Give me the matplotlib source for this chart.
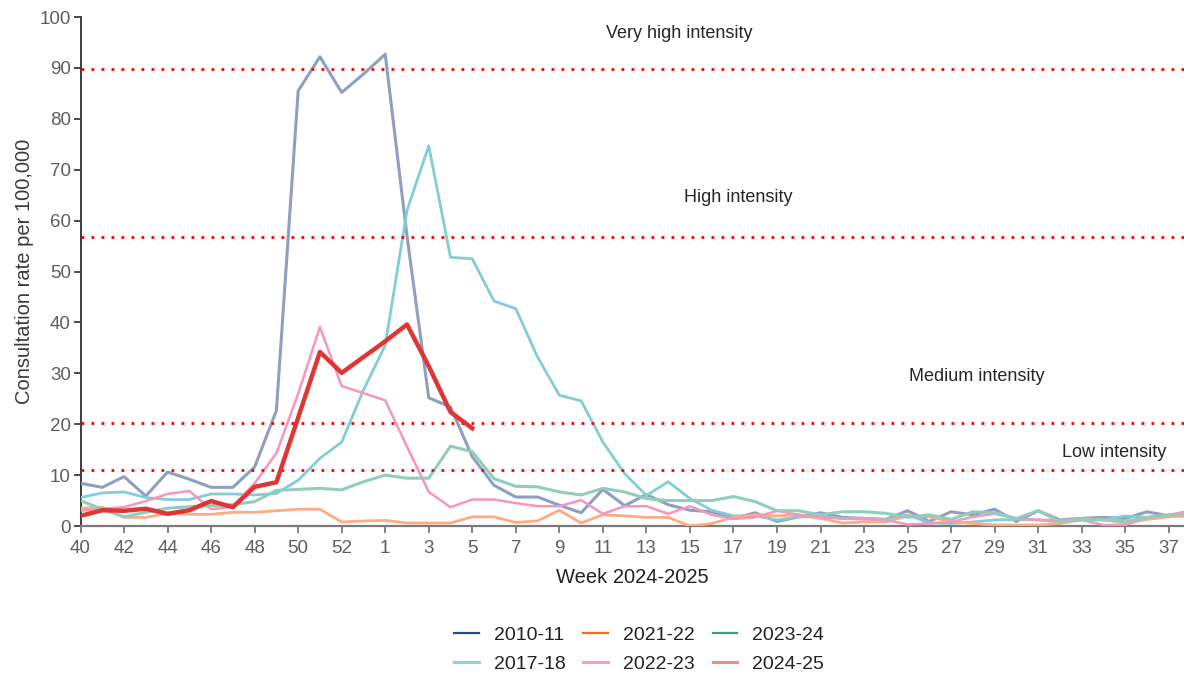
import matplotlib
matplotlib.use("Agg")
import matplotlib.pyplot as plt
from matplotlib.lines import Line2D

plt.rcParams['font.family'] = ['Liberation Sans', 'DejaVu Sans']

# ISO weeks of the season, week 40 through week 38 (season axis includes week 53)
weeks = list(range(40, 54)) + list(range(1, 39))

s2010_11 = [8.4, 7.6, 9.7, 5.9, 10.6, 9.2, 7.6, 7.6, 11.6, 22.7, 85.5, 92.2, 85.2,
            88.8, 92.7, 57.0, 25.2, 23.4, 13.6, 8.0, 5.7, 5.7, 4.1, 2.6, 7.2, 4.0,
            6.2, 4.2, 3.1, 2.8, 1.5, 2.6, 0.9, 1.8, 2.6, 1.7, 1.5, 1.3, 3.0, 0.9,
            2.8, 2.2, 3.3, 0.9, 3.0, 1.2, 1.5, 1.7, 1.5, 2.8, 2.0, 2.0]
s2017_18 = [5.6, 6.5, 6.7, 5.6, 5.2, 5.2, 6.3, 6.3, 6.1, 6.4, 9.0, 13.3, 16.5,
            26.7, 35.5, 62.0, 74.7, 52.8, 52.5, 44.2, 42.7, 33.2, 25.7, 24.6, 16.5,
            10.3, 6.0, 8.7, 5.4, 3.1, 2.0, 2.0, 1.2, 1.8, 1.8, 1.5, 1.5, 1.3, 2.2,
            0.6, 0.5, 0.8, 1.2, 1.3, 1.2, 0.8, 1.5, 1.2, 2.0, 1.7, 2.0, 2.0]
s2021_22 = [3.5, 3.7, 1.7, 1.7, 2.5, 2.3, 2.3, 2.7, 2.7, 3.0, 3.3, 3.3, 0.8,
            1.0, 1.1, 0.6, 0.6, 0.6, 1.8, 1.8, 0.7, 1.0, 3.1, 0.6, 2.2, 2.0,
            1.7, 1.7, 0.0, 0.5, 1.7, 2.2, 2.0, 2.2, 1.5, 0.6, 0.8, 0.8, 2.0, 1.8,
            0.9, 0.5, 0.2, 0.2, 0.2, 0.5, 1.2, 1.3, 0.5, 1.3, 1.8, 2.3]
s2022_23 = [3.0, 3.4, 3.7, 4.9, 6.3, 6.9, 3.3, 3.8, 8.4, 14.3, 26.0, 39.1, 27.5,
            26.1, 24.7, 15.6, 6.7, 3.7, 5.2, 5.2, 4.5, 3.9, 3.9, 5.1, 2.4, 3.9,
            3.9, 2.4, 3.9, 2.2, 1.4, 1.7, 3.0, 2.2, 1.7, 1.5, 1.3, 1.2, 0.3, 0.5,
            0.8, 1.8, 2.4, 1.5, 1.2, 1.2, 1.2, 0.2, 0.2, 1.7, 2.2, 3.0]
s2023_24 = [5.0, 3.3, 1.8, 2.7, 3.5, 3.8, 4.0, 4.2, 4.8, 7.0, 7.2, 7.4, 7.1,
            8.7, 10.0, 9.4, 9.4, 15.7, 14.6, 9.3, 7.8, 7.7, 6.7, 6.1, 7.4, 6.7,
            5.4, 5.0, 5.0, 5.0, 5.8, 4.8, 3.0, 3.0, 2.2, 2.8, 2.8, 2.5, 1.7, 2.2,
            1.3, 2.8, 2.6, 1.5, 3.0, 0.9, 1.2, 1.2, 0.9, 1.7, 2.2, 2.3]
# current season, reported up to week 5
s2024_25 = [2.0, 3.1, 3.0, 3.4, 2.4, 3.1, 4.9, 3.7, 7.7, 8.6, 21.3, 34.2, 30.1,
            33.2, 36.3, 39.6, 31.4, 22.4, 19.2]

# MEM intensity thresholds
thresholds = [11.1, 20.2, 56.7, 89.8]
threshold_labels = ['Low intensity', 'Medium intensity', 'High intensity', 'Very high intensity']
label_pos = [(47.5, 14.4), (41.2, 29.4), (30.2, 64.5), (27.5, 96.7)]


def plot_all():
    fig = plt.figure(figsize=(11.84, 6.75), dpi=100)
    ax = fig.add_axes([0.068, 0.2207, 0.932, 0.754])

    x_all = list(range(len(weeks)))

    past = [
        ('2010-11', s2010_11, '#8e9fc0', 2.2),
        ('2017-18', s2017_18, '#82cdd6', 2.0),
        ('2021-22', s2021_22, '#ffab82', 2.0),
        ('2022-23', s2022_23, '#f596bd', 1.8),
        ('2023-24', s2023_24, '#90cdbd', 2.2),
    ]
    for name, vals, col, lw in past:
        ax.plot(x_all, vals, color=col, linewidth=lw, zorder=3)

    ax.plot(x_all[:len(s2024_25)], s2024_25, color='#e03535', linewidth=3.2, zorder=5)

    for lvl in thresholds:
        ax.axhline(lvl, color='#ff0000', linestyle=(0, (1, 2.6)), linewidth=2.0, zorder=4)
    for txt, (px, py) in zip(threshold_labels, label_pos):
        ax.text(px, py, txt, ha='center', va='center', fontsize=13, color='#262626')

    ax.set_xlim(0, 50.7)
    ax.set_ylim(0, 100)
    ax.set_xticks(x_all[::2])
    ax.set_xticklabels([str(w) for w in weeks[::2]])
    ax.set_yticks(range(0, 101, 10))

    ax.spines['top'].set_visible(False)
    ax.spines['right'].set_visible(False)
    ax.spines['left'].set_color('#3c3c3c')
    ax.spines['bottom'].set_color('#7a7a7a')
    ax.spines['left'].set_linewidth(1.4)
    ax.spines['bottom'].set_linewidth(1.6)
    ax.tick_params(axis='both', labelsize=13.5, labelcolor='#5e5e5e', length=5, width=1.3)
    ax.tick_params(axis='x', colors='#7a7a7a', labelcolor='#5e5e5e', pad=5)
    ax.tick_params(axis='y', colors='#3c3c3c', labelcolor='#5e5e5e', pad=2)

    ax.set_xlabel('Week 2024-2025', fontsize=14.5, color='#222222', labelpad=8)
    ax.set_ylabel('Consultation rate per 100,000', fontsize=14.5, color='#3a3a3a', labelpad=4)

    handles = [
        Line2D([], [], color='#2a4b8a', linewidth=1.6),
        Line2D([], [], color='#8dd2db', linewidth=2.2),
        Line2D([], [], color='#ff6a1a', linewidth=1.6),
        Line2D([], [], color='#f79cc2', linewidth=2.2),
        Line2D([], [], color='#3a9f86', linewidth=1.6),
        Line2D([], [], color='#f08a8a', linewidth=2.2),
    ]
    names = ['2010-11', '2017-18', '2021-22', '2022-23', '2023-24', '2024-25']
    leg = fig.legend(handles, names, loc='center', bbox_to_anchor=(0.54, 0.038), ncol=3,
                     frameon=False, fontsize=14, handlelength=1.25, handletextpad=0.8,
                     columnspacing=0.9, labelspacing=0.6)
    for t in leg.get_texts():
        t.set_color('#222222')

    fig.savefig('out.png', dpi=100)


if __name__ == "__main__":
    plot_all()
